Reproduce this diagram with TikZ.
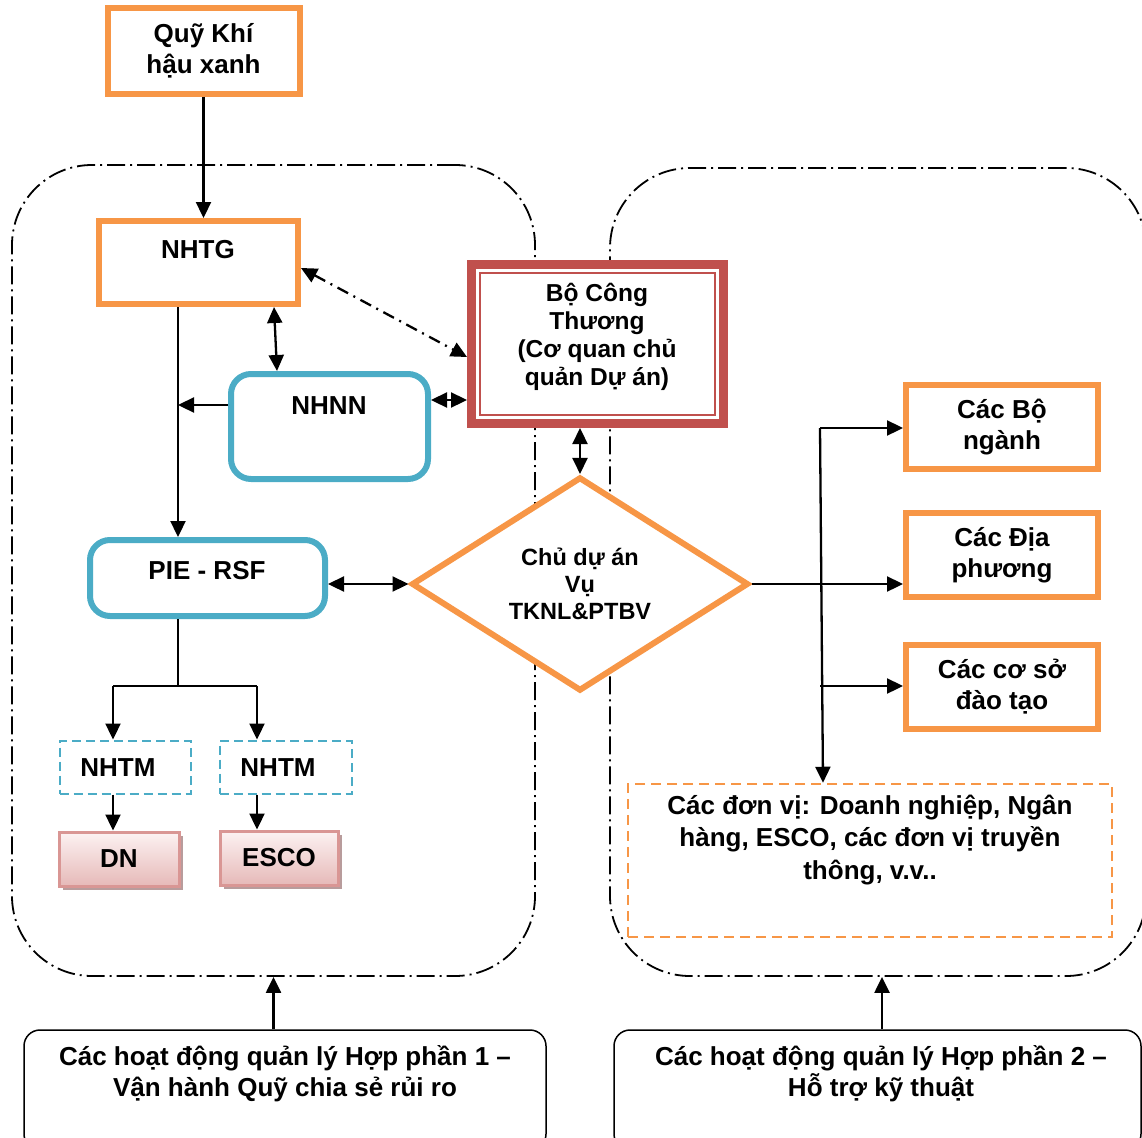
\documentclass[tikz,border=0pt]{standalone}
\usepackage{fontspec}
\setmainfont{Liberation Sans}
\usetikzlibrary{arrows.meta,shapes.geometric,shadows,calc}
\definecolor{orangec}{HTML}{F79646}
\definecolor{bluec}{HTML}{4BACC6}
\definecolor{redc}{HTML}{C0504D}
\definecolor{pinkb}{HTML}{D99694}
\definecolor{pinktop}{HTML}{FCF2F2}
\definecolor{pinkbot}{HTML}{E6B9B8}
\definecolor{shadowc}{HTML}{B89C9C}
\begin{document}
\begin{tikzpicture}[x=1pt,y=-1pt,
  every node/.style={font=\fontsize{26}{31}\selectfont\bfseries, align=center, inner sep=0pt},
  txt/.style={},
  obox/.style={draw=orangec, line width=6pt, fill=white},
  bbox/.style={draw=bluec, line width=6pt, rounded corners=20pt, fill=white},
  nbox/.style={draw=bluec, line width=2pt, dash pattern=on 9pt off 5pt},
  pbox/.style={draw=pinkb, line width=3pt, top color=pinktop, bottom color=pinkbot,
    drop shadow={shadow xshift=4pt, shadow yshift=-4pt, fill=shadowc, opacity=1}},
  frame/.style={draw, line width=1.8pt, rounded corners=80pt, dash pattern=on 18pt off 5pt on 2pt off 5pt},
  hbox/.style={draw, line width=1.5pt, rounded corners=16pt},
  conn/.style={draw, line width=2.3pt},
  arr/.style={conn, -{Triangle[length=16pt,width=15pt]}},
  darr/.style={conn, {Triangle[length=16pt,width=15pt]}-{Triangle[length=16pt,width=15pt]}},
  dashdot/.style={dash pattern=on 12pt off 6pt on 2pt off 6pt}
]
\useasboundingbox (0,0) rectangle (1142,1137);
\clip (0,0) rectangle (1142,1137);

% group frames
\node[frame, minimum width=523pt, minimum height=811pt] (g1) at (273.5,570.5) {};
\node[frame, minimum width=536pt, minimum height=808pt] (g2) at (878,572) {};

% left side
\node[obox, minimum width=192pt, minimum height=86pt] (quy) at (203.5,51) {Quỹ Khí\\hậu xanh};
\node[obox, minimum width=199pt, minimum height=83pt] (nhtg) at (198.5,262.5) {};
\node[txt] (nhtg-t) at (198,250) {NHTG};
\node[bbox, minimum width=197pt, minimum height=105pt] (nhnn) at (329.5,426.5) {};
\node[txt] (nhnn-t) at (329,406) {NHNN};
\node[bbox, minimum width=235pt, minimum height=76pt] (pie) at (207.5,578) {};
\node[txt] (pie-t) at (207,571) {PIE - RSF};

\node[nbox, minimum width=131pt, minimum height=53pt] (nhtm1) at (125,767) {};
\node[txt] (nhtm1-t) at (118,768) {NHTM};
\node[nbox, minimum width=132pt, minimum height=53pt] (nhtm2) at (285.5,767) {};
\node[txt] (nhtm2-t) at (278,768) {NHTM};

\node[pbox, minimum width=120pt, minimum height=54pt] (dn) at (119,859) {DN};
\node[pbox, minimum width=118pt, minimum height=54pt] (esco) at (279,858) {ESCO};

% centre
\node[draw=redc, line width=9pt, fill=white, minimum width=252pt, minimum height=159pt] (bct) at (597.5,344) {};
\draw[redc, line width=1.5pt] ($(bct.north west)+(13,13)$) rectangle ($(bct.south east)+(-13,-13)$);
\node[txt, font=\fontsize{24.5}{28}\selectfont\bfseries] (bct-t) at (597,337) {Bộ Công\\Thương\\(Cơ quan chủ\\quản Dự án)};

\node[diamond, draw=orangec, line width=6pt, fill=white, minimum width=337pt, minimum height=201pt,
  font=\fontsize{23.5}{27}\selectfont\bfseries] (cda) at (580,584) {Chủ dự án\\Vụ\\TKNL\&PTBV};

% right side
\node[obox, minimum width=192pt, minimum height=84pt] (bo) at (1002,427) {Các Bộ\\ngành};
\node[obox, minimum width=192pt, minimum height=84pt] (dp) at (1002,555) {Các Địa\\phương};
\node[obox, minimum width=192pt, minimum height=84pt] (cs) at (1002,687) {Các cơ sở\\đào tạo};

\node[draw=orangec, line width=2.5pt, dash pattern=on 10pt off 6pt, minimum width=484pt, minimum height=153pt] (dv) at (870,860.5) {};
\node[txt, font=\fontsize{26}{32.5}\selectfont\bfseries] (dv-t) at (870,840) {Các đơn vị: Doanh nghiệp, Ngân\\hàng, ESCO, các đơn vị truyền\\thông, v.v..};

% bottom boxes
\node[hbox, minimum width=522pt, minimum height=120pt] (hp1) at (285,1090) {};
\node[txt] (hp1-t) at (285,1074) {Các hoạt động quản lý Hợp phần 1 –\\Vận hành Quỹ chia sẻ rủi ro};
\node[hbox, minimum width=527pt, minimum height=120pt] (hp2) at (877.5,1090) {};
\node[txt] (hp2-t) at (881,1074) {Các hoạt động quản lý Hợp phần 2 –\\Hỗ trợ kỹ thuật};

% helper coordinates
\coordinate (vx) at (178,0);
\coordinate (ny) at (0,405);
\coordinate (a1) at (274,0);
\coordinate (a2) at (277,0);
\coordinate (y400) at (0,400);
\coordinate (y268) at (0,268);
\coordinate (y357) at (0,357);
\coordinate (t1) at (820,428);
\coordinate (t2) at (823,0);
\coordinate (t3) at (820,686);
\coordinate (sp) at (178,686);
\coordinate (sl) at (113,686);
\coordinate (sr) at (257,686);
\coordinate (x882) at (882,0);

% connectors
\draw[arr] (quy.south) -- (quy.south |- nhtg.north);
\draw[arr] (nhtg.south -| vx) -- (pie.north -| vx);
\draw[arr] (nhnn.west |- ny) -- (vx |- ny);
\draw[darr] (nhtg.south -| a1) -- (nhnn.north -| a2);
\draw[darr] (nhnn.east |- y400) -- (bct.west |- y400);
\draw[darr, dashdot] (nhtg.east |- y268) -- (bct.west |- y357);
\draw[darr] (bct.south -| cda.north) -- (cda.north);
\draw[darr] (pie.east |- cda.west) -- (cda.west);
\draw[arr] (cda.east) -- (cda.east -| dp.west);
\draw[arr] (t1) -- (t2 |- dv.north);
\draw[arr] (t1) -- (t1 -| bo.west);
\draw[arr] (t3) -- (t3 -| cs.west);
\draw[conn] (pie.south -| vx) -- (sp);
\draw[conn] (sl) -- (sr);
\draw[arr] (sl) -- (sl |- nhtm1.north);
\draw[arr] (sr) -- (sr |- nhtm2.north);
\draw[arr] (nhtm1.south -| sl) -- (sl |- dn.north);
\draw[arr] (nhtm2.south -| sr) -- (sr |- esco.north);
\draw[arr] (g1.south |- hp1.north) -- (g1.south);
\draw[arr] (hp2.north -| x882) -- (g2.south -| x882);
\end{tikzpicture}
\end{document}
